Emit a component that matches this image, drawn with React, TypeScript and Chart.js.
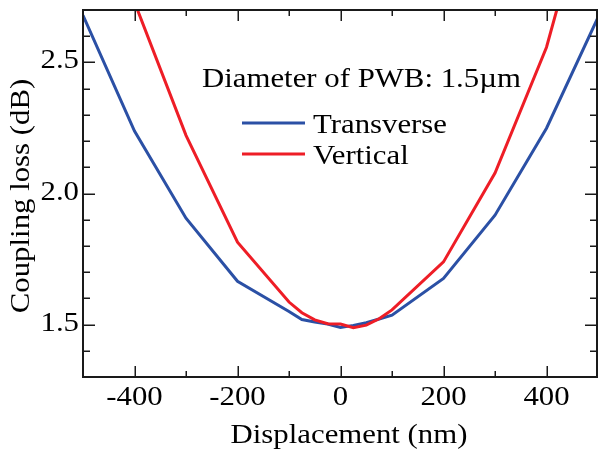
import React, { useEffect, useRef } from 'react';
import { Chart, registerables } from 'chart.js';

Chart.register(...registerables);

const displacement = [-500, -400, -300, -200, -100, -75, -50, -25, 0, 25, 50, 75, 100, 200, 300, 400, 500];
const transverse = [2.68, 2.238, 1.906, 1.665, 1.55, 1.519, 1.51, 1.502, 1.489, 1.497, 1.507, 1.521, 1.536, 1.676, 1.917, 2.249, 2.672];
const vertical = [3.4, 2.73, 2.222, 1.814, 1.586, 1.545, 1.518, 1.503, 1.502, 1.488, 1.498, 1.522, 1.556, 1.739, 2.078, 2.558, 3.27];

const xMajorTicks = [-400, -200, 0, 200, 400];
const xMinorTicks = [-300, -100, 100, 300];
const yMajorTicks = [1.5, 2.0, 2.5];
const yMinorTicks = [1.4, 1.6, 1.7, 1.8, 1.9, 2.1, 2.2, 2.3, 2.4, 2.6];

const seriesNames = ['Transverse', 'Vertical'];
const seriesColors = ['#2b50a5', '#ee1d26'];
const legendTitle = 'Diameter of PWB: 1.5µm';
const xTitle = 'Displacement (nm)';
const yTitle = 'Coupling loss (dB)';

const FONT = '"Liberation Serif", "Times New Roman", serif';
const SX = 1.1;

function drawText(ctx: CanvasRenderingContext2D, text: string, x: number, y: number, size: number, align: CanvasTextAlign, rot = 0) {
  ctx.save();
  ctx.translate(x, y);
  if (rot) ctx.rotate(rot);
  ctx.scale(SX, 1);
  ctx.font = `${size}px ${FONT}`;
  ctx.fillStyle = '#000';
  ctx.textAlign = align;
  ctx.textBaseline = 'alphabetic';
  ctx.fillText(text, 0, 0);
  ctx.restore();
}

const framePlugin = {
  id: 'frame',
  afterDraw(chart: any) {
    const ctx: CanvasRenderingContext2D = chart.ctx;
    const a = chart.chartArea;
    const xs = chart.scales.x;
    const ys = chart.scales.y;
    const left = a.left;
    const right = a.right - 1;
    const top = a.top;
    const bottom = a.bottom;
    ctx.save();
    ctx.strokeStyle = '#1a1a1a';
    ctx.lineWidth = 2;
    ctx.beginPath();
    ctx.moveTo(left, top);
    ctx.lineTo(right, top);
    ctx.lineTo(right, bottom);
    ctx.lineTo(left, bottom);
    ctx.closePath();
    ctx.stroke();
    ctx.lineWidth = 1.5;
    ctx.beginPath();
    const xt = (v: number, len: number) => {
      const px = Math.round(xs.getPixelForValue(v)) + 0.25;
      ctx.moveTo(px, bottom);
      ctx.lineTo(px, bottom - len);
      ctx.moveTo(px, top);
      ctx.lineTo(px, top + len);
    };
    const yt = (v: number, len: number) => {
      const py = Math.round(ys.getPixelForValue(v)) + 0.25;
      ctx.moveTo(left, py);
      ctx.lineTo(left + len, py);
      ctx.moveTo(right, py);
      ctx.lineTo(right - len, py);
    };
    xMajorTicks.forEach((v) => xt(v, 11));
    xMinorTicks.forEach((v) => xt(v, 6));
    yMajorTicks.forEach((v) => yt(v, 12));
    yMinorTicks.forEach((v) => yt(v, 7));
    ctx.stroke();
    ctx.restore();

    xMajorTicks.forEach((v) => drawText(ctx, String(v), xs.getPixelForValue(v), 405, 28, 'center'));
    yMajorTicks.forEach((v) => drawText(ctx, v.toFixed(1), left - 4, ys.getPixelForValue(v) + 6, 28, 'right'));

    drawText(ctx, xTitle, 349, 443, 28, 'center');
    drawText(ctx, yTitle, 29, 196, 28, 'center', -Math.PI / 2);

    drawText(ctx, legendTitle, 202, 87, 28, 'left');
    const rows = [123, 154];
    rows.forEach((ly, i) => {
      ctx.save();
      ctx.strokeStyle = seriesColors[i];
      ctx.lineWidth = 3;
      ctx.beginPath();
      ctx.moveTo(242, ly);
      ctx.lineTo(305, ly);
      ctx.stroke();
      ctx.restore();
      drawText(ctx, seriesNames[i], 313, ly + 10, 28, 'left');
    });
  },
};

export default function App() {
  const ref = useRef<HTMLCanvasElement>(null);
  useEffect(() => {
    document.body.style.margin = '0';
    const chart = new Chart(ref.current!, {
      type: 'line',
      data: {
        datasets: [
          {
            label: seriesNames[0],
            data: displacement.map((x, i) => ({ x, y: transverse[i] })),
            borderColor: seriesColors[0],
            backgroundColor: seriesColors[0],
            borderWidth: 3,
            pointRadius: 0,
            tension: 0,
            clip: 0,
            order: 1,
          },
          {
            label: seriesNames[1],
            data: displacement.map((x, i) => ({ x, y: vertical[i] })),
            borderColor: seriesColors[1],
            backgroundColor: seriesColors[1],
            borderWidth: 3,
            pointRadius: 0,
            tension: 0,
            clip: 0,
            order: 0,
          },
        ],
      },
      options: {
        animation: false,
        responsive: false,
        layout: { padding: { top: 10, right: 0, left: 0, bottom: 0 } },
        plugins: { legend: { display: false }, tooltip: { enabled: false } },
        scales: {
          x: {
            type: 'linear',
            min: -500,
            max: 500,
            ticks: { display: false },
            grid: { display: false, drawTicks: false },
            border: { display: false },
            afterFit: (s: any) => {
              s.height = 75;
            },
          },
          y: {
            type: 'linear',
            min: 1.3,
            max: 2.7,
            ticks: { display: false },
            grid: { display: false, drawTicks: false },
            border: { display: false },
            afterFit: (s: any) => {
              s.width = 83;
            },
          },
        },
      },
      plugins: [framePlugin],
    });
    return () => chart.destroy();
  }, []);
  return (
    <div style={{ position: 'absolute', left: 0, top: 0, width: 598, height: 452, background: '#fff' }}>
      <canvas ref={ref} width={598} height={452} style={{ display: 'block' }} />
    </div>
  );
}
